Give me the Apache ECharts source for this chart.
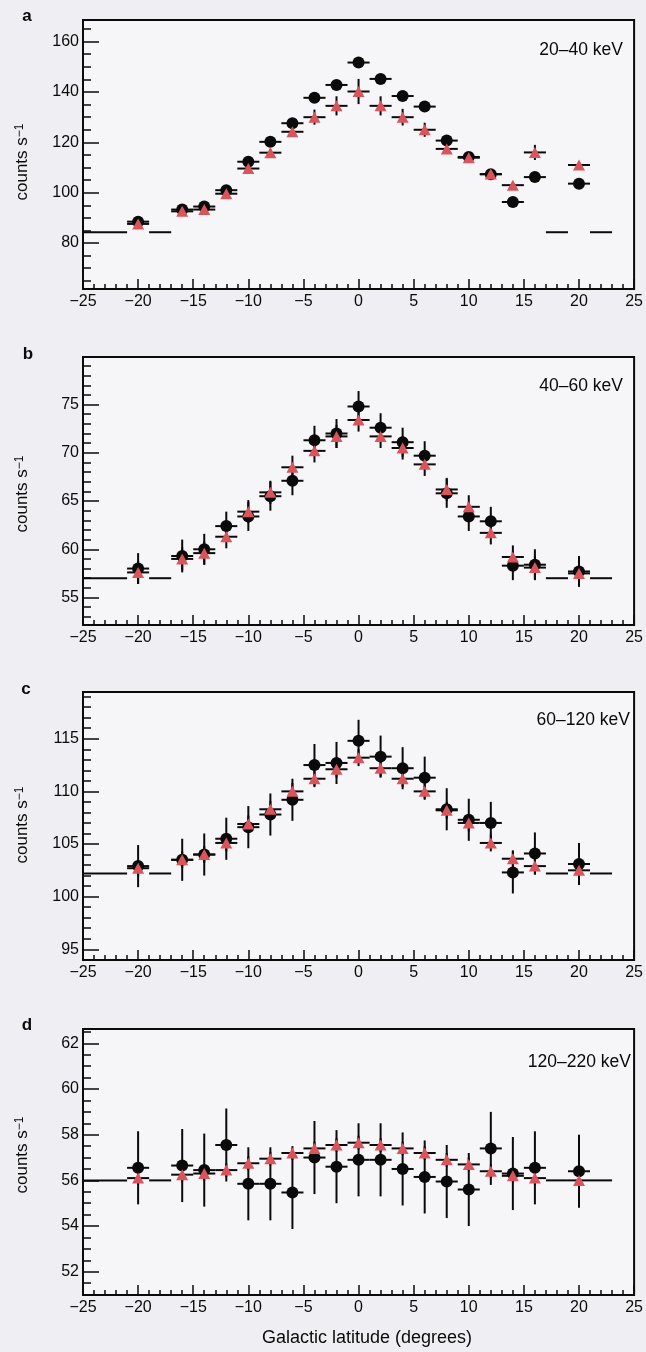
<!DOCTYPE html>
<html>
<head>
<meta charset="utf-8">
<script src="https://cdn.jsdelivr.net/npm/echarts@6/dist/echarts.min.js"></script>
<style>
html,body{margin:0;padding:0;background:#efeff3;}
#chart{width:646px;height:1352px;}
</style>
</head>
<body>
<div id="chart"></div>
<script>
// ---- data ----
const lat = [-20,-16,-14,-12,-10,-8,-6,-4,-2,0,2,4,6,8,10,12,14,16,20];
const bandLabels = ['20–40 keV','40–60 keV','60–120 keV','120–220 keV'];
const panelLetters = ['a','b','c','d'];
const yTitle = 'counts s';
const xTitle = 'Galactic latitude (degrees)';

// panel a (20–40 keV)
const aCircle = [88.5,93.3,94.5,101.0,112.3,120.2,127.6,137.7,142.8,151.7,145.2,138.4,134.2,120.7,114.2,107.3,96.3,106.2,103.6];
const aCircleErr = [0.8,0.8,0.8,0.8,0.8,0.8,0.8,0.8,0.8,0.8,0.8,0.8,0.8,0.8,0.8,0.8,0.8,0.8,0.8];
const aTriangle = [87.6,92.6,93.3,99.6,109.6,115.9,124.2,130.0,134.5,140.2,134.5,130.0,125.0,117.4,113.9,107.4,103.0,116.0,111.0];
const aTriangleErr = [1.0,1.0,1.0,1.0,1.2,1.5,2.0,3.0,3.8,5.0,3.8,3.3,2.8,1.5,1.5,1.0,1.0,3.0,1.5];

// panel b (40–60 keV)
const bCircle = [58.0,59.3,60.0,62.4,63.4,65.5,67.1,71.3,72.0,74.8,72.6,71.1,69.7,65.8,63.4,62.9,58.3,58.4,57.7];
const bCircleErr = [1.6,1.7,1.6,1.5,1.5,1.5,1.5,1.5,1.5,1.6,1.5,1.5,1.5,1.5,1.5,1.5,1.5,1.6,1.6];
const bTriangle = [57.6,59.0,59.6,61.3,63.9,65.9,68.5,70.2,71.7,73.4,71.7,70.5,68.8,66.2,64.4,61.7,59.2,58.1,57.5];
const bTriangleErr = [1.2,1.2,1.2,1.2,1.2,1.2,1.2,1.2,1.2,1.2,1.2,1.2,1.2,1.2,1.2,1.2,1.2,1.2,1.2];

// panel c (60–120 keV)
const cCircle = [102.9,103.5,104.0,105.5,106.6,107.8,109.2,112.5,112.7,114.8,113.3,112.2,111.3,108.3,107.3,107.0,102.3,104.1,103.1];
const cCircleErr = [2.0,2.0,2.0,2.0,2.0,2.0,2.0,2.0,2.0,2.0,2.0,2.0,2.0,2.0,2.0,2.0,2.0,2.0,2.0];
const cTriangle = [102.7,103.5,104.0,105.1,106.9,108.3,110.0,111.2,112.1,113.2,112.2,111.2,110.0,108.2,107.0,105.1,103.6,102.9,102.5];
const cTriangleErr = [0.8,0.8,0.8,0.8,0.8,0.8,0.8,0.8,0.8,0.8,0.8,0.8,0.8,0.8,0.8,0.8,0.8,0.8,0.8];

// panel d (120–220 keV)
const dCircle = [56.55,56.65,56.45,57.55,55.85,55.85,55.47,57.0,56.6,56.9,56.9,56.5,56.15,55.95,55.6,57.4,56.3,56.55,56.4];
const dCircleErr = [1.6,1.6,1.6,1.6,1.6,1.6,1.6,1.6,1.6,1.6,1.6,1.6,1.6,1.6,1.6,1.6,1.6,1.6,1.6];
const dTriangle = [56.1,56.25,56.3,56.45,56.75,56.95,57.2,57.4,57.55,57.65,57.55,57.4,57.2,56.9,56.7,56.4,56.2,56.1,56.0];
const dTriangleErr = [0.3,0.3,0.3,0.3,0.3,0.3,0.3,0.3,0.3,0.3,0.3,0.3,0.3,0.3,0.3,0.3,0.3,0.3,0.3];

// background-only bins and their level
const bkgBins = [[-25,-21],[-19,-17],[17,19],[21,23]];
const bkgLevel = [84.3, 57.0, 102.2, 56.0];

// y tick labels
const aTicks = [80,100,120,140,160];
const bTicks = [55,60,65,70,75];
const cTicks = [95,100,105,110,115];
const dTicks = [52,54,56,58,60,62];
const minorStep = [5,1,1,0.5];
const yRange = [[61.75,168.6],[52.15,79.93],[93.98,119.44],[50.98,62.63]];

// ---- layout ----
const FONT = 'Liberation Sans, Arial, Helvetica, sans-serif';
const INK = '#0a0a0a';
const RED = '#d9555b';
const grids = [
  {top:20, height:269},
  {top:357, height:268},
  {top:692, height:268},
  {top:1029, height:266}
];
const yTitleY = [162, 494, 825, 1155];
const letterPos = [[27,16],[28,354],[26,689],[27,1025]];
const bandPos = [[623,50],[623,386],[630,720],[631,1062]];

const panels = [
  {c:aCircle, ce:aCircleErr, t:aTriangle, te:aTriangleErr, ticks:aTicks},
  {c:bCircle, ce:bCircleErr, t:bTriangle, te:bTriangleErr, ticks:bTicks},
  {c:cCircle, ce:cCircleErr, t:cTriangle, te:cTriangleErr, ticks:cTicks},
  {c:dCircle, ce:dCircleErr, t:dTriangle, te:dTriangleErr, ticks:dTicks}
];

function errRender(params, api) {
  const x = api.value(0), y = api.value(1), e = api.value(2);
  const pl = api.coord([x-1, y]), pr = api.coord([x+1, y]);
  const pt = api.coord([x, y+e]), pb = api.coord([x, y-e]);
  const st = {stroke: INK, lineWidth: 2};
  return {type:'group', children:[
    {type:'line', shape:{x1:pl[0],y1:pl[1],x2:pr[0],y2:pr[1]}, style:st},
    {type:'line', shape:{x1:pt[0],y1:pt[1],x2:pb[0],y2:pb[1]}, style:st}
  ]};
}
function bkgRender(params, api) {
  const a = api.coord([api.value(0), api.value(2)]);
  const b = api.coord([api.value(1), api.value(2)]);
  return {type:'line', shape:{x1:a[0],y1:a[1],x2:b[0],y2:b[1]}, style:{stroke:INK, lineWidth:2}};
}
function minorValues(r, step) {
  const out = [];
  const start = Math.ceil(r[0]/step)*step;
  for (let v = start; v <= r[1] + 1e-9; v += step) out.push(+v.toFixed(4));
  return out;
}

const option = {
  animation:false,
  backgroundColor:'#efeff3',
  grid: grids.map(g => ({left:83, right:3, top:g.top, height:g.height, show:true,
    borderColor:INK, borderWidth:2, backgroundColor:'#f6f6f8'})),
  xAxis: grids.map((g,i) => ({
    gridIndex:i, type:'value', min:-25, max:25, interval:5,
    axisLine:{show:false, onZero:false},
    axisTick:{inside:true, length:10, lineStyle:{color:INK, width:1.5}},
    minorTick:{show:true, splitNumber:5, length:5, lineStyle:{color:INK, width:1.5}},
    splitLine:{show:false}, minorSplitLine:{show:false},
    axisLabel:{fontSize:16, color:INK, fontFamily:FONT, margin:5,
      formatter: v => String(v).replace('-', '−')}
  })),
  yAxis: [],
  series: [],
  graphic: []
};

panels.forEach((p,i) => {
  const r = yRange[i];
  option.yAxis.push({
    gridIndex:i, type:'value', min:r[0], max:r[1], position:'left',
    axisLine:{show:false, onZero:false},
    axisTick:{inside:true, length:16, customValues:p.ticks, lineStyle:{color:INK, width:1.5}},
    axisLabel:{customValues:p.ticks, fontSize:16, color:INK, fontFamily:FONT, margin:4},
    splitLine:{show:false}
  });
  option.yAxis.push({
    gridIndex:i, type:'value', min:r[0], max:r[1], position:'left',
    axisLine:{show:false, onZero:false},
    axisTick:{inside:true, length:8, customValues:minorValues(r, minorStep[i]), lineStyle:{color:INK, width:1.5}},
    axisLabel:{show:false},
    splitLine:{show:false}
  });
  const yi = 2*i;
  option.series.push({
    type:'custom', xAxisIndex:i, yAxisIndex:yi, renderItem:bkgRender, clip:true,
    encode:{x:[0,1], y:2},
    data: bkgBins.map(b => [b[0], b[1], bkgLevel[i]])
  });
  option.series.push({
    type:'custom', xAxisIndex:i, yAxisIndex:yi, renderItem:errRender, clip:true,
    encode:{x:0, y:1},
    data: lat.map((x,k) => [x, p.c[k], p.ce[k]])
  });
  option.series.push({
    type:'custom', xAxisIndex:i, yAxisIndex:yi, renderItem:errRender, clip:true,
    encode:{x:0, y:1},
    data: lat.map((x,k) => [x, p.t[k], p.te[k]])
  });
  option.series.push({
    type:'scatter', xAxisIndex:i, yAxisIndex:yi, symbol:'circle', symbolSize:12,
    itemStyle:{color:INK, opacity:1}, data: lat.map((x,k) => [x, p.c[k]])
  });
  option.series.push({
    type:'scatter', xAxisIndex:i, yAxisIndex:yi, symbol:'triangle', symbolSize:[12,11],
    itemStyle:{color:RED, opacity:1}, data: lat.map((x,k) => [x, p.t[k]])
  });

  option.graphic.push({
    type:'text', x:22, y:yTitleY[i], rotation:Math.PI/2,
    style:{text:'{m|' + yTitle + '}{s|−1}', align:'center', verticalAlign:'middle',
      rich:{m:{fontSize:17, fontFamily:FONT, fill:INK}, s:{fontSize:12, fontFamily:FONT, fill:INK, verticalAlign:'top'}}}
  });
  option.graphic.push({
    type:'text', x:letterPos[i][0], y:letterPos[i][1],
    style:{text:panelLetters[i], fontSize:17, fontWeight:'bold', fontFamily:FONT, fill:INK, align:'center', verticalAlign:'middle'}
  });
  option.graphic.push({
    type:'text', x:bandPos[i][0], y:bandPos[i][1],
    style:{text:bandLabels[i], fontSize:17.5, fontFamily:FONT, fill:INK, align:'right', verticalAlign:'middle'}
  });
});
option.graphic.push({
  type:'text', x:367, y:1338,
  style:{text:xTitle, fontSize:18, fontFamily:FONT, fill:INK, align:'center', verticalAlign:'middle'}
});

const chart = echarts.init(document.getElementById('chart'), null, {renderer:'canvas'});
chart.setOption(option);
</script>
</body>
</html>
